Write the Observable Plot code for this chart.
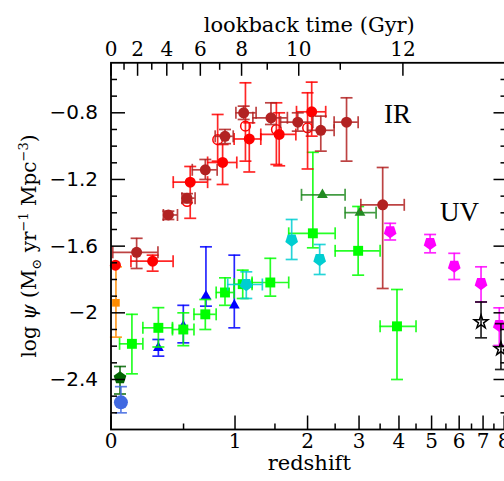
<!DOCTYPE html>
<html><head><meta charset="utf-8">
<script src="https://cdn.jsdelivr.net/npm/d3@7"></script>
<script src="https://cdn.jsdelivr.net/npm/@observablehq/plot@0.6"></script>
<style>html,body{margin:0;padding:0;background:#fff;overflow:hidden}</style>
</head><body><div id="chart"></div>
<script>
// rows: [z, log psi, zLow, zHigh, psiLow, psiHigh]
const gruppioni2013 = [
  [0.154, -1.637, 0.01, 0.30, -1.734, -1.553],
  [0.378, -1.413, 0.34, 0.45, -1.44, -1.39],
  [0.529, -1.312, 0.487, 0.60, -1.34, -1.285],
  [0.694, -1.142, 0.575, 0.81, -1.20, -1.08],
  [0.891, -0.941, 0.79, 0.98, -0.985, -0.90],
  [1.099, -0.800, 1.01, 1.25, -0.84, -0.76],
  [1.445, -0.830, 1.21, 1.68, -0.87, -0.74],
  [1.84, -0.856, 1.58, 2.09, -0.91, -0.80],
  [2.23, -0.905, 2.00, 2.48, -1.03, -0.82],
  [2.73, -0.856, 2.48, 2.98, -1.09, -0.71],
  [3.565, -1.352, 3.04, 4.15, -1.854, -1.128]
];
const magnelli2013 = [
  [0.025, -1.714, null, null, null, null],
  [0.262, -1.69, 0.118, 0.415, -1.75, -1.654],
  [0.557, -1.216, 0.416, 0.716, -1.433, -1.122],
  [0.866, -1.098, 0.716, 1.02, -1.23, -0.99],
  [1.166, -0.957, 0.99, 1.31, -1.155, -0.86],
  [1.56, -0.93, 1.31, 1.81, -1.118, -0.80],
  [2.07, -0.794, 1.82, 2.32, -0.94, -0.616]
];
const magnelli2011 = [
  [0.53, -1.332, null, null, null, null],
  [0.815, -0.961, null, null, -1.09, -0.81],
  [1.12, -0.88, null, null, -1.09, -0.62],
  [1.52, -0.90, null, null, -1.11, -0.74],
  [2.0, -0.89, null, null, -1.137, -0.68]
];
const cucciati2012 = [
  [0.124, -2.186, 0.049, 0.195, -2.366, -2.009],
  [0.303, -2.09, 0.195, 0.41, -2.205, -1.969],
  [0.498, -2.10, 0.41, 0.59, -2.197, -2.0],
  [0.694, -2.009, 0.59, 0.80, -2.10, -1.92],
  [0.891, -1.878, 0.80, 0.99, -1.955, -1.79],
  [1.088, -1.828, 0.99, 1.20, -1.914, -1.744],
  [1.436, -1.818, 1.20, 1.70, -1.90, -1.673],
  [2.09, -1.523, 1.70, 2.50, -1.61, -1.037],
  [2.98, -1.628, 2.50, 3.50, -1.774, -1.362],
  [3.945, -2.081, 3.50, 4.50, -2.40, -1.86]
];
const reddySteidel2009 = [
  [2.26, -1.292, 1.9, 2.7, null, null],
  [3.02, -1.399, 2.7, 3.4, null, null]
];
const dahlen2007 = [
  [1.13, -1.83, 0.92, 1.33, -1.914, -1.754],
  [1.745, -1.563, null, null, -1.68, -1.44],
  [2.21, -1.68, null, null, -1.77, -1.59]
];
const bouwens2012 = [
  [3.76, -1.513, null, null, -1.563, -1.463],
  [4.95, -1.583, null, null, -1.64, -1.53],
  [5.81, -1.72, null, null, -1.80, -1.643],
  [6.91, -1.824, null, null, -1.935, -1.724],
  [7.76, -2.075, null, null, -2.196, -1.97]
];
const schenker2013 = [
  [6.91, -2.055, null, null, -2.15, -1.935],
  [7.84, -2.216, null, null, -2.34, -2.065]
];
const schiminovich2005 = [
  [0.303, -2.21, null, null, -2.26, -2.16],
  [0.498, -2.08, null, null, -2.18, -1.955],
  [0.70, -1.90, null, null, -1.96, -1.604],
  [0.992, -1.955, null, null, -2.09, -1.654]
];
const robothamDriver2011 = [[0.0516, -2.39, null, null, -2.487, -2.322]];
const wyder2005 = [[0.057, -2.537, null, null, -2.60, -2.443]];
const takeuchi2003 = [[0.028, -1.94, null, null, -2.146, -1.724]];

const zTicks = [0, 1, 2, 3, 4, 5, 6, 7, 8];
const zMinorTicks = [0.5, 1.5, 2.5, 3.5, 4.5, 5.5, 6.5, 7.5];
const lookbackTicks = [0, 2, 4, 6, 8, 10, 12];
const lookbackMinorTicks = [1, 3, 5, 7, 9, 11];
const psiTicks = [-0.8, -1.2, -1.6, -2, -2.4];
const psiMinorTicks = [-0.6, -0.7, -0.9, -1.0, -1.1, -1.3, -1.4, -1.5, -1.7, -1.8, -1.9, -2.1, -2.2, -2.3, -2.5, -2.6];
const annotationLabels = ["IR", "UV"];
const annotationZ = [3.96, 6.01];
const annotationPsi = [-0.81, -1.40];

// cosmology for the lookback-time axis (H0=70, Om=0.3, OL=0.7)
const H0 = 70, Om = 0.3, OL = 0.7;
const hubbleTime = 977.8 / H0;
const tau = 2 * hubbleTime / (3 * Math.sqrt(OL));
const A = Math.sqrt(OL / Om);
const age0 = tau * Math.asinh(A);
const zFromLookback = t => Math.pow(Math.sinh((age0 - t) / tau) / A, -2 / 3) - 1;
const lz = z => Math.log10(1 + z);

const seg = (x1, y1, x2, y2) => ({draw(ctx) { ctx.moveTo(x1, y1); ctx.lineTo(x2, y2); }});
const capH = seg(-6, 0, 6, 0), capV = seg(0, -6, 0, 6);
const pentagon = (up) => ({draw(ctx, size) {
  const R = Math.sqrt(size / Math.PI) * 1.15;
  for (let i = 0; i < 5; i++) {
    const a = (up ? -Math.PI / 2 : Math.PI / 2) + i * 2 * Math.PI / 5;
    const px = R * Math.cos(a), py = R * Math.sin(a);
    i ? ctx.lineTo(px, py) : ctx.moveTo(px, py);
  }
  ctx.closePath();
}});
const starOutline = {draw(ctx, size) {
  const R = Math.sqrt(size / Math.PI) * 1.3, r0 = R * 0.38;
  for (let i = 0; i < 10; i++) {
    const a = -Math.PI / 2 + i * Math.PI / 5, rr = i % 2 ? r0 : R;
    i ? ctx.lineTo(rr * Math.cos(a), rr * Math.sin(a)) : ctx.moveTo(rr * Math.cos(a), rr * Math.sin(a));
  }
  ctx.closePath();
}};

const series = [
  {rows: schiminovich2005, color: "#0000ff", symbol: "triangle", r: 4},
  {rows: takeuchi2003, color: "#ff8c00", symbol: "square", r: 4.3},
  {rows: cucciati2012, color: "#00ff00", symbol: "square", r: 5.6},
  {rows: reddySteidel2009, color: "#228b22", symbol: "triangle", r: 4},
  {rows: dahlen2007, color: "#00ced1", symbol: pentagon(false), r: 5.8},
  {rows: bouwens2012, color: "#ff00ff", symbol: pentagon(false), r: 5.8},
  {rows: schenker2013, color: "#000000", symbol: starOutline, r: 5.5, open: true},
  {rows: magnelli2011, color: "#ff0000", symbol: "circle", r: 4.8, open: true},
  {rows: magnelli2013, color: "#ff0000", symbol: "circle", r: 5.5},
  {rows: gruppioni2013, color: "#b22222", symbol: "circle", r: 5.5},
  {rows: robothamDriver2011, color: "#006400", symbol: pentagon(true), r: 5.8},
  {rows: wyder2005, color: "#4169e1", symbol: "circle", r: 7}
];

const barStyle = {strokeWidth: 1.7, strokeOpacity: 0.85};
const seriesMarks = series.flatMap(s => {
  const v = s.rows.filter(d => d[4] != null);
  const h = s.rows.filter(d => d[2] != null);
  return [
    Plot.ruleX(v, {x: d => lz(d[0]), y1: d => d[4], y2: d => d[5], stroke: s.color, ...barStyle}),
    Plot.dot(v, {x: d => lz(d[0]), y: d => d[4], symbol: capH, fill: "none", stroke: s.color, ...barStyle}),
    Plot.dot(v, {x: d => lz(d[0]), y: d => d[5], symbol: capH, fill: "none", stroke: s.color, ...barStyle}),
    Plot.ruleY(h, {y: d => d[1], x1: d => lz(d[2]), x2: d => lz(d[3]), stroke: s.color, ...barStyle}),
    Plot.dot(h, {x: d => lz(d[2]), y: d => d[1], symbol: capV, fill: "none", stroke: s.color, ...barStyle}),
    Plot.dot(h, {x: d => lz(d[3]), y: d => d[1], symbol: capV, fill: "none", stroke: s.color, ...barStyle}),
    s.open
      ? Plot.dot(s.rows, {x: d => lz(d[0]), y: d => d[1], symbol: s.symbol, r: s.r, fill: "none", stroke: s.color, strokeWidth: 1.5})
      : Plot.dot(s.rows, {x: d => lz(d[0]), y: d => d[1], symbol: s.symbol, r: s.r, fill: s.color, stroke: "none"})
  ];
});

const tickStyle = {fill: "none", stroke: "black", strokeWidth: 1.5};
const serif = "DejaVu Serif";
const plot = Plot.plot({
  width: 504, height: 481,
  marginLeft: 110.5, marginRight: -3, marginTop: 62.3, marginBottom: 52,
  x: {type: "linear", domain: [0, 0.9624], axis: null},
  y: {domain: [-2.7, -0.5], axis: null},
  style: {background: "white"},
  marks: [
    ...seriesMarks,
    // ticks
    Plot.dot(zTicks, {x: d => lz(d), frameAnchor: "bottom", symbol: seg(0, 0, 0, -14), ...tickStyle}),
    Plot.dot(zMinorTicks, {x: d => lz(d), frameAnchor: "bottom", symbol: seg(0, 0, 0, -6), ...tickStyle}),
    Plot.dot(lookbackTicks, {x: d => lz(zFromLookback(d)), frameAnchor: "top", symbol: seg(0, 0, 0, 13), ...tickStyle}),
    Plot.dot(lookbackMinorTicks, {x: d => lz(zFromLookback(d)), frameAnchor: "top", symbol: seg(0, 0, 0, 7), ...tickStyle}),
    Plot.dot(psiTicks, {y: d => d, frameAnchor: "left", symbol: seg(0, 0, 14, 0), ...tickStyle}),
    Plot.dot(psiMinorTicks, {y: d => d, frameAnchor: "left", symbol: seg(0, 0, 6, 0), ...tickStyle}),
    Plot.dot(psiTicks, {y: d => d, frameAnchor: "right", symbol: seg(0, 0, -14, 0), ...tickStyle}),
    Plot.dot(psiMinorTicks, {y: d => d, frameAnchor: "right", symbol: seg(0, 0, -7, 0), ...tickStyle}),
    Plot.frame({stroke: "black", strokeWidth: 1.8}),
    // tick labels
    Plot.text(zTicks, {x: d => lz(d), frameAnchor: "bottom", dy: 18, text: d => String(d), fontFamily: serif, fontSize: 20, fill: "black"}),
    Plot.text(lookbackTicks, {x: d => lz(zFromLookback(d)), frameAnchor: "top", dy: -21, text: d => String(d), fontFamily: serif, fontSize: 20, fill: "black"}),
    Plot.text(psiTicks, {y: d => d, frameAnchor: "left", dx: -13, textAnchor: "end", text: d => String(d).replace("-", "\u2212"), fontFamily: "DejaVu Sans", fontSize: 20, fill: "black"}),
    // axis titles
    Plot.text(["lookback time (Gyr)"], {frameAnchor: "top", dy: -46, text: d => d, fontFamily: serif, fontSize: 21, fill: "black"}),
    Plot.text(["redshift"], {frameAnchor: "bottom", dy: 40, text: d => d, fontFamily: serif, fontSize: 21, fill: "black"}),
    // annotations
    Plot.text(annotationLabels, {x: (d, i) => lz(annotationZ[i]), y: (d, i) => annotationPsi[i], text: d => d, fontFamily: "Liberation Serif", fontSize: 27, fill: "black"})
  ]
});

const svg = d3.select(plot);
const t = svg.append("text")
  .attr("transform", "translate(36,246) rotate(-90)")
  .attr("text-anchor", "middle")
  .attr("font-family", serif)
  .attr("font-size", 20)
  .attr("fill", "black");
t.append("tspan").text("log ");
t.append("tspan").attr("font-style", "italic").text("ψ");
t.append("tspan").text(" (M");
t.append("tspan").attr("font-size", 13).attr("dy", 5).text("⊙");
t.append("tspan").attr("dy", -5).text(" yr");
t.append("tspan").attr("font-size", 13).attr("dy", -8).text("−1");
t.append("tspan").attr("dy", 8).text(" Mpc");
t.append("tspan").attr("font-size", 13).attr("dy", -8).text("−3");
t.append("tspan").attr("dy", 8).text(")");

document.getElementById("chart").appendChild(plot);
</script>
</body></html>
